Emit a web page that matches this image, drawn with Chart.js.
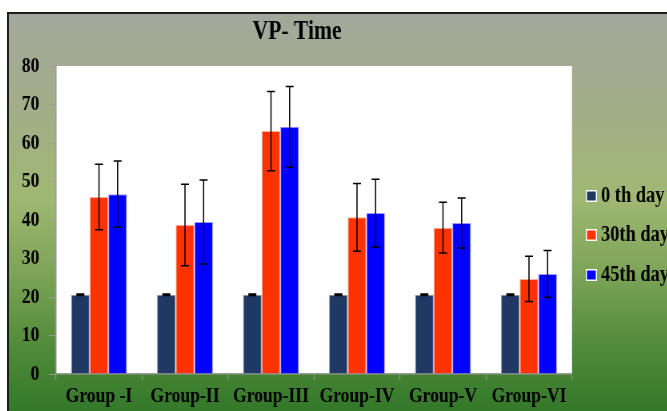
<!DOCTYPE html>
<html>
<head>
<meta charset="utf-8">
<script src="https://cdn.jsdelivr.net/npm/chart.js@4/dist/chart.umd.min.js"></script>
<style>
html,body{margin:0;padding:0;background:#fff;overflow:hidden;width:667px;height:411px;}
#frame{position:absolute;left:7px;top:12px;width:720px;height:410px;border:2px solid #1c1c1c;
 background:linear-gradient(to bottom,#a4a79c 0%,#a2ad8b 20%,#9fb873 45%,#7fa558 62%,#4f8a39 82%,#2e7427 100%);}
#wrap{position:absolute;left:9px;top:14px;width:830px;height:397px;transform:scaleX(0.8);transform-origin:0 0;}
</style>
</head>
<body>
<div id="frame"></div>
<div id="wrap"><canvas id="c" width="830" height="397"></canvas></div>
<script>
const categories = ["Group -I","Group-II","Group-III","Group-IV","Group-V","Group-VI"];
const seriesNames = ["0 th day","30th day","45th day"];
const day0  = [20.6,20.6,20.6,20.6,20.6,20.6];
const day30 = [46.0,38.7,63.1,40.7,38.0,24.7];
const day45 = [46.7,39.5,64.2,41.8,39.2,26.0];
const err0  = [0.2,0.2,0.2,0.2,0.2,0.2];
const err30 = [8.5,10.6,10.3,8.8,6.6,5.9];
const err45 = [8.6,10.9,10.5,8.8,6.5,6.1];
const yTicks = [0,10,20,30,40,50,60,70,80];
const titleText = "VP- Time";

const colors = ["#203864","#ff3300","#0000ff"];
const borders = ["#8c9ab8","#ffb09a","#9a9aff"];
const values = [day0, day30, day45];
const errors = [err0, err30, err45];
const FONT = "'Liberation Serif','Times New Roman',serif";

const plotBg = {
  id:'plotBg',
  beforeDraw(chart){
    const a = chart.chartArea, ctx = chart.ctx;
    ctx.save(); ctx.fillStyle = '#ffffff';
    ctx.fillRect(a.left, a.top, a.right - a.left, a.bottom - a.top);
    ctx.restore();
  }
};

const errorBars = {
  id:'errorBars',
  afterDatasetsDraw(chart){
    const ctx = chart.ctx, y = chart.scales.y;
    ctx.save();
    ctx.strokeStyle = '#000'; ctx.lineWidth = 1.5;
    chart.data.datasets.forEach((ds, di) => {
      const meta = chart.getDatasetMeta(di);
      meta.data.forEach((bar, i) => {
        const v = ds.data[i], e = errors[di][i];
        const yt = y.getPixelForValue(v + e), yb = y.getPixelForValue(v - e);
        const x = bar.x, cw = 5;
        ctx.beginPath();
        ctx.moveTo(x, yt); ctx.lineTo(x, yb);
        ctx.moveTo(x - cw, yt); ctx.lineTo(x + cw, yt);
        ctx.moveTo(x - cw, yb); ctx.lineTo(x + cw, yb);
        ctx.stroke();
      });
    });
    ctx.restore();
  }
};

const titleAndLegend = {
  id:'titleAndLegend',
  afterDraw(chart){
    const ctx = chart.ctx;
    ctx.save();
    ctx.fillStyle = '#000';
    ctx.font = "bold 27px " + FONT;
    ctx.textAlign = 'center'; ctx.textBaseline = 'middle';
    ctx.fillText(titleText, 360, 18);
    ctx.font = "bold 23px " + FONT;
    ctx.textAlign = 'left';
    const ys = [182, 221, 261];
    chart.data.datasets.forEach((ds, i) => {
      const yc = ys[i];
      ctx.fillStyle = '#ffffff';
      ctx.fillRect(721, yc - 6, 14, 12);
      ctx.fillStyle = ds.backgroundColor;
      ctx.fillRect(722.5, yc - 4.5, 11, 9);
      ctx.fillStyle = '#000';
      ctx.fillText(ds.label, 740, yc);
    });
    ctx.restore();
  }
};

new Chart(document.getElementById('c'), {
  type:'bar',
  data:{
    labels: categories,
    datasets: seriesNames.map((n, i) => ({
      label: n, data: values[i], backgroundColor: colors[i],
      borderColor: borders[i], borderWidth: 1,
      categoryPercentage: 0.65, barPercentage: 1.0
    }))
  },
  options:{
    responsive:false, animation:false, devicePixelRatio:1,
    layout:{padding:{top:52,right:126.25,left:0,bottom:0}},
    plugins:{legend:{display:false}, title:{display:false}, tooltip:{enabled:false}},
    scales:{
      x:{
        afterFit(s){ s.height = 37; },
        grid:{display:true, drawOnChartArea:false, drawTicks:true, tickLength:6, color:'#9a9a9a', offset:true},
        border:{display:true, color:'#9a9a9a', width:1.5},
        ticks:{color:'#000', font:{family:FONT, size:22, weight:'bold'}, padding:3, maxRotation:0, autoSkip:false}
      },
      y:{
        min:0, max:80,
        afterFit(s){ s.width = 58.75; },
        afterBuildTicks(s){ s.ticks = yTicks.map(v => ({value:v})); },
        grid:{display:true, drawOnChartArea:false, drawTicks:true, tickLength:8.75, color:'#9a9a9a'},
        border:{display:true, color:'#9a9a9a', width:1.5},
        ticks:{color:'#000', font:{family:FONT, size:22, weight:'bold'}, padding:12}
      }
    }
  },
  plugins:[plotBg, errorBars, titleAndLegend]
});
</script>
</body>
</html>
